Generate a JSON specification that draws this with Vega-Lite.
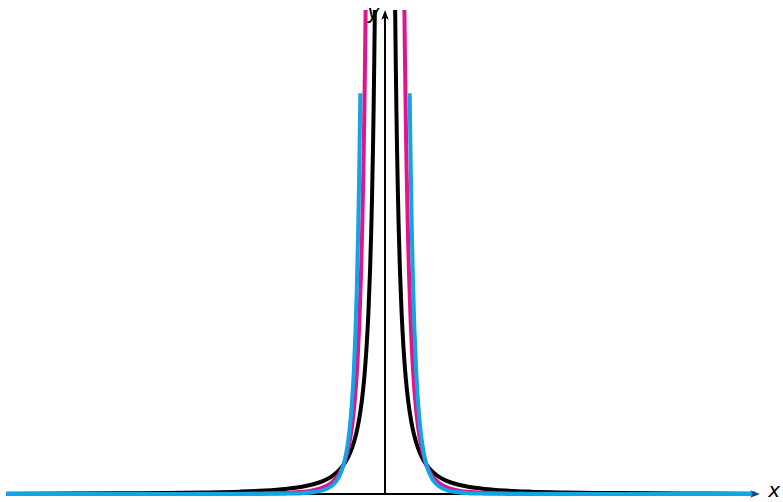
{
  "$schema": "https://vega.github.io/schema/vega-lite/v6.json",
  "width": 783,
  "height": 502,
  "autosize": {"type": "none"},
  "padding": 0,
  "background": "white",
  "config": {"view": {"stroke": null}},
  "datasets": {
    "axes": [
      {"x": -9.13, "x2": 8.95, "y": 0, "y2": 0},
      {"x": 0, "x2": 0, "y": 0, "y2": 16.5}
    ],
    "black": [
      {"b": "L", "x": -9.13, "y": 0.012}, {"b": "L", "x": -7.8, "y": 0.0164}, {"b": "L", "x": -6.5, "y": 0.0237}, {"b": "L", "x": -5.3, "y": 0.0356}, {"b": "L", "x": -4.3, "y": 0.0541}, {"b": "L", "x": -3.5, "y": 0.0816}, {"b": "L", "x": -2.9, "y": 0.119}, {"b": "L", "x": -2.4, "y": 0.174}, {"b": "L", "x": -2.0, "y": 0.25}, {"b": "L", "x": -1.75, "y": 0.327}, {"b": "L", "x": -1.5, "y": 0.444}, {"b": "L", "x": -1.3, "y": 0.592}, {"b": "L", "x": -1.15, "y": 0.756}, {"b": "L", "x": -1.0, "y": 1.0}, {"b": "L", "x": -0.9, "y": 1.235}, {"b": "L", "x": -0.8, "y": 1.5625}, {"b": "L", "x": -0.7, "y": 2.04}, {"b": "L", "x": -0.63, "y": 2.52}, {"b": "L", "x": -0.56, "y": 3.19}, {"b": "L", "x": -0.5, "y": 4.0}, {"b": "L", "x": -0.45, "y": 4.94}, {"b": "L", "x": -0.4, "y": 6.25}, {"b": "L", "x": -0.36, "y": 7.72}, {"b": "L", "x": -0.33, "y": 9.18}, {"b": "L", "x": -0.31, "y": 10.41}, {"b": "L", "x": -0.29, "y": 11.89}, {"b": "L", "x": -0.275, "y": 13.22}, {"b": "L", "x": -0.26, "y": 14.79}, {"b": "L", "x": -0.25, "y": 16.0}, {"b": "L", "x": -0.2448, "y": 16.69},
      {"b": "R", "x": 0.2448, "y": 16.69}, {"b": "R", "x": 0.25, "y": 16.0}, {"b": "R", "x": 0.26, "y": 14.79}, {"b": "R", "x": 0.275, "y": 13.22}, {"b": "R", "x": 0.29, "y": 11.89}, {"b": "R", "x": 0.31, "y": 10.41}, {"b": "R", "x": 0.33, "y": 9.18}, {"b": "R", "x": 0.36, "y": 7.72}, {"b": "R", "x": 0.4, "y": 6.25}, {"b": "R", "x": 0.45, "y": 4.94}, {"b": "R", "x": 0.5, "y": 4.0}, {"b": "R", "x": 0.56, "y": 3.19}, {"b": "R", "x": 0.63, "y": 2.52}, {"b": "R", "x": 0.7, "y": 2.04}, {"b": "R", "x": 0.8, "y": 1.5625}, {"b": "R", "x": 0.9, "y": 1.235}, {"b": "R", "x": 1.0, "y": 1.0}, {"b": "R", "x": 1.15, "y": 0.756}, {"b": "R", "x": 1.3, "y": 0.592}, {"b": "R", "x": 1.5, "y": 0.444}, {"b": "R", "x": 1.75, "y": 0.327}, {"b": "R", "x": 2.0, "y": 0.25}, {"b": "R", "x": 2.4, "y": 0.174}, {"b": "R", "x": 2.9, "y": 0.119}, {"b": "R", "x": 3.5, "y": 0.0816}, {"b": "R", "x": 4.3, "y": 0.0541}, {"b": "R", "x": 5.3, "y": 0.0356}, {"b": "R", "x": 6.5, "y": 0.0237}, {"b": "R", "x": 7.8, "y": 0.0164}, {"b": "R", "x": 8.92, "y": 0.0126}
    ],
    "magenta": [
      {"b": "L", "x": -9.13, "y": 0.0003}, {"b": "L", "x": -7.8, "y": 0.0005}, {"b": "L", "x": -6.5, "y": 0.001}, {"b": "L", "x": -5.3, "y": 0.0021}, {"b": "L", "x": -4.3, "y": 0.0045}, {"b": "L", "x": -3.5, "y": 0.0097}, {"b": "L", "x": -2.9, "y": 0.0195}, {"b": "L", "x": -2.4, "y": 0.0392}, {"b": "L", "x": -2.0, "y": 0.0769}, {"b": "L", "x": -1.75, "y": 0.126}, {"b": "L", "x": -1.5, "y": 0.223}, {"b": "L", "x": -1.3, "y": 0.379}, {"b": "L", "x": -1.15, "y": 0.596}, {"b": "L", "x": -1.05, "y": 0.835}, {"b": "L", "x": -0.95, "y": 1.209}, {"b": "L", "x": -0.87, "y": 1.674}, {"b": "L", "x": -0.8, "y": 2.28}, {"b": "L", "x": -0.75, "y": 2.9}, {"b": "L", "x": -0.7, "y": 3.74}, {"b": "L", "x": -0.66, "y": 4.65}, {"b": "L", "x": -0.62, "y": 5.86}, {"b": "L", "x": -0.58, "y": 7.5}, {"b": "L", "x": -0.55, "y": 9.13}, {"b": "L", "x": -0.52, "y": 11.24}, {"b": "L", "x": -0.5, "y": 12.99}, {"b": "L", "x": -0.48, "y": 15.12}, {"b": "L", "x": -0.4675, "y": 16.69},
      {"b": "R", "x": 0.4675, "y": 16.69}, {"b": "R", "x": 0.48, "y": 15.12}, {"b": "R", "x": 0.5, "y": 12.99}, {"b": "R", "x": 0.52, "y": 11.24}, {"b": "R", "x": 0.55, "y": 9.13}, {"b": "R", "x": 0.58, "y": 7.5}, {"b": "R", "x": 0.62, "y": 5.86}, {"b": "R", "x": 0.66, "y": 4.65}, {"b": "R", "x": 0.7, "y": 3.74}, {"b": "R", "x": 0.75, "y": 2.9}, {"b": "R", "x": 0.8, "y": 2.28}, {"b": "R", "x": 0.87, "y": 1.674}, {"b": "R", "x": 0.95, "y": 1.209}, {"b": "R", "x": 1.05, "y": 0.835}, {"b": "R", "x": 1.15, "y": 0.596}, {"b": "R", "x": 1.3, "y": 0.379}, {"b": "R", "x": 1.5, "y": 0.223}, {"b": "R", "x": 1.75, "y": 0.126}, {"b": "R", "x": 2.0, "y": 0.0769}, {"b": "R", "x": 2.4, "y": 0.0392}, {"b": "R", "x": 2.9, "y": 0.0195}, {"b": "R", "x": 3.5, "y": 0.0097}, {"b": "R", "x": 4.3, "y": 0.0045}, {"b": "R", "x": 5.3, "y": 0.0021}, {"b": "R", "x": 6.5, "y": 0.001}, {"b": "R", "x": 7.8, "y": 0.0005}, {"b": "R", "x": 8.92, "y": 0.0003}
    ],
    "cyan": [
      {"b": "L", "x": -9.13, "y": 0}, {"b": "L", "x": -6.5, "y": 0.0001}, {"b": "L", "x": -4.3, "y": 0.0006}, {"b": "L", "x": -3.5, "y": 0.0018}, {"b": "L", "x": -2.9, "y": 0.0046}, {"b": "L", "x": -2.4, "y": 0.0119}, {"b": "L", "x": -2.0, "y": 0.03}, {"b": "L", "x": -1.75, "y": 0.0589}, {"b": "L", "x": -1.5, "y": 0.1285}, {"b": "L", "x": -1.3, "y": 0.265}, {"b": "L", "x": -1.15, "y": 0.493}, {"b": "L", "x": -1.05, "y": 0.781}, {"b": "L", "x": -0.97, "y": 1.167}, {"b": "L", "x": -0.9, "y": 1.705}, {"b": "L", "x": -0.85, "y": 2.276}, {"b": "L", "x": -0.8, "y": 3.09}, {"b": "L", "x": -0.75, "y": 4.29}, {"b": "L", "x": -0.71, "y": 5.66}, {"b": "L", "x": -0.68, "y": 7.04}, {"b": "L", "x": -0.65, "y": 8.85}, {"b": "L", "x": -0.63, "y": 10.36}, {"b": "L", "x": -0.61, "y": 12.2}, {"b": "L", "x": -0.595, "y": 13.82},
      {"b": "R", "x": 0.595, "y": 13.82}, {"b": "R", "x": 0.61, "y": 12.2}, {"b": "R", "x": 0.63, "y": 10.36}, {"b": "R", "x": 0.65, "y": 8.85}, {"b": "R", "x": 0.68, "y": 7.04}, {"b": "R", "x": 0.71, "y": 5.66}, {"b": "R", "x": 0.75, "y": 4.29}, {"b": "R", "x": 0.8, "y": 3.09}, {"b": "R", "x": 0.85, "y": 2.276}, {"b": "R", "x": 0.9, "y": 1.705}, {"b": "R", "x": 0.97, "y": 1.167}, {"b": "R", "x": 1.05, "y": 0.781}, {"b": "R", "x": 1.15, "y": 0.493}, {"b": "R", "x": 1.3, "y": 0.265}, {"b": "R", "x": 1.5, "y": 0.1285}, {"b": "R", "x": 1.75, "y": 0.0589}, {"b": "R", "x": 2.0, "y": 0.03}, {"b": "R", "x": 2.4, "y": 0.0119}, {"b": "R", "x": 2.9, "y": 0.0046}, {"b": "R", "x": 3.5, "y": 0.0018}, {"b": "R", "x": 4.3, "y": 0.0006}, {"b": "R", "x": 6.5, "y": 0.0001}, {"b": "R", "x": 8.92, "y": 0}
    ],
    "arrows": [
      {"x": 0, "y": 16.52, "dir": "up"},
      {"x": 8.916, "y": 0, "dir": "right"}
    ],
    "labels": [
      {"x": -0.28, "y": 16.6, "t": "y"},
      {"x": 9.38, "y": 0.12, "t": "x"}
    ]
  },
  "encoding": {
    "x": {"field": "x", "type": "quantitative", "scale": {"domain": [-9.277, 9.59], "nice": false, "zero": false}, "axis": null},
    "y": {"field": "y", "type": "quantitative", "scale": {"domain": [-0.2759, 17.034], "nice": false, "zero": false}, "axis": null}
  },
  "layer": [
    {
      "data": {"name": "axes"},
      "mark": {"type": "rule", "color": "#000000", "strokeWidth": 2},
      "encoding": {
        "x2": {"field": "x2"},
        "y2": {"field": "y2"}
      }
    },
    {
      "data": {"name": "black"},
      "mark": {"type": "line", "color": "#000000", "strokeWidth": 4, "interpolate": "monotone"},
      "encoding": {"detail": {"field": "b"}, "order": {"field": "x", "type": "quantitative"}}
    },
    {
      "data": {"name": "magenta"},
      "mark": {"type": "line", "color": "#E2148C", "strokeWidth": 4, "interpolate": "monotone"},
      "encoding": {"detail": {"field": "b"}, "order": {"field": "x", "type": "quantitative"}}
    },
    {
      "data": {"name": "cyan"},
      "mark": {"type": "line", "color": "#12A4E4", "strokeWidth": 4, "interpolate": "monotone"},
      "encoding": {"detail": {"field": "b"}, "order": {"field": "x", "type": "quantitative"}}
    },
    {
      "data": {"name": "arrows"},
      "transform": [{"filter": "datum.dir === 'up'"}],
      "mark": {"type": "point", "filled": true, "color": "#000000", "opacity": 1, "size": 100, "shape": "M0,-1L0.75,1L0,0.45L-0.75,1Z"}
    },
    {
      "data": {"name": "arrows"},
      "transform": [{"filter": "datum.dir === 'right'"}],
      "mark": {"type": "point", "filled": true, "color": "#1a3f8f", "opacity": 1, "size": 100, "shape": "M1,0L-1,0.75L-0.45,0L-1,-0.75Z"}
    },
    {
      "data": {"name": "labels"},
      "mark": {"type": "text", "font": "DejaVu Sans", "fontStyle": "italic", "fontSize": 20, "color": "#000000", "align": "center", "baseline": "middle"},
      "encoding": {"text": {"field": "t"}}
    }
  ]
}
